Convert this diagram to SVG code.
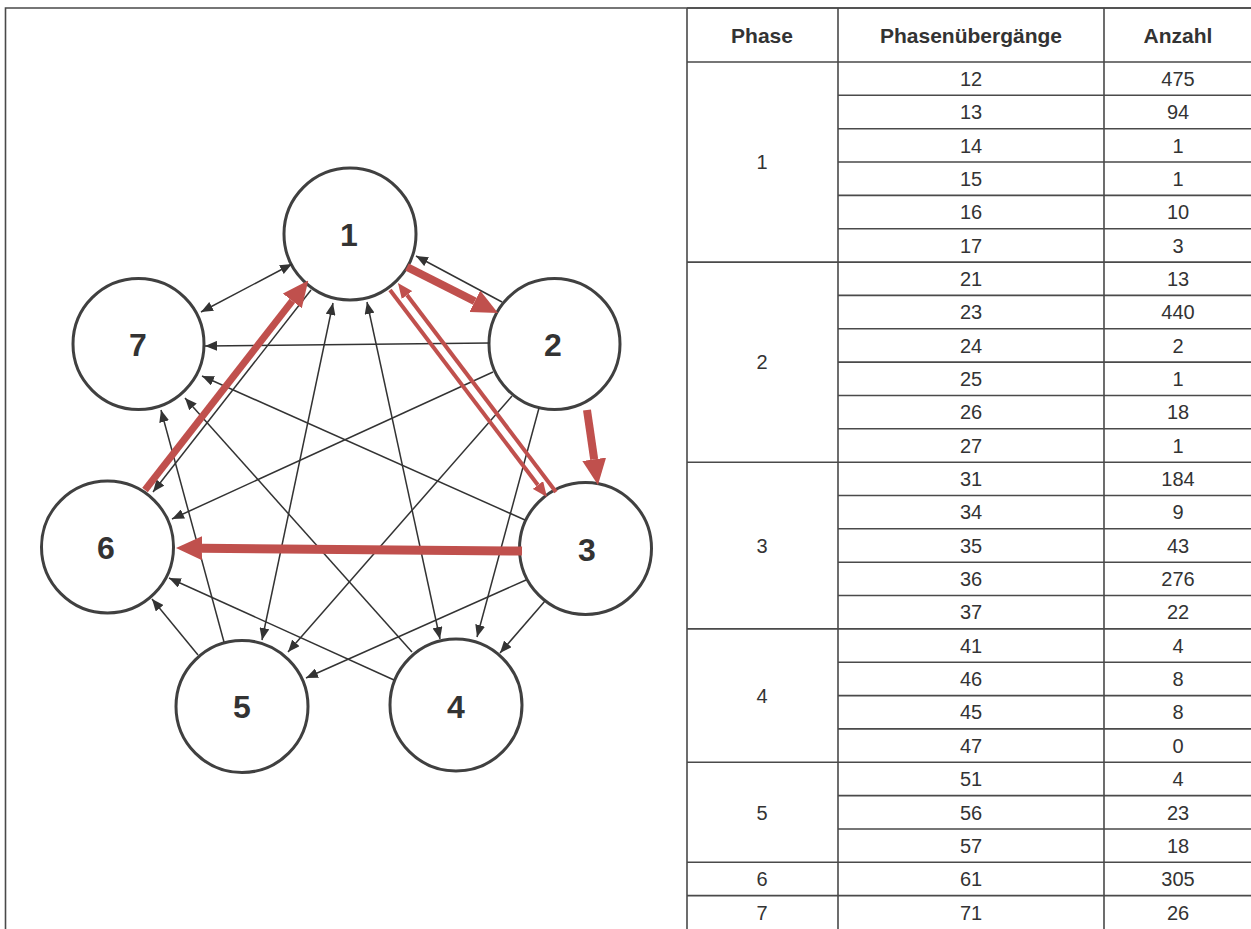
<svg xmlns="http://www.w3.org/2000/svg" width="1251" height="929" viewBox="0 0 1251 929">
  <style>
    .node circle { fill: #ffffff; stroke: #404040; stroke-width: 3; }
    .node text { font-family: "Liberation Sans", Arial, sans-serif; font-size: 32px; font-weight: bold; fill: #333333; text-anchor: middle; }
    .edge { fill: none; stroke: #333333; stroke-width: 1.5; }
    .hot { fill: none; stroke: #C0504D; }
    .grid { stroke: #4a4a4a; stroke-width: 1.6; fill: none; }
    .th { font-family: "Liberation Sans", Arial, sans-serif; font-size: 21px; font-weight: bold; fill: #333333; text-anchor: middle; }
    .td { font-family: "Liberation Sans", Arial, sans-serif; font-size: 20px; fill: #333333; text-anchor: middle; }
  </style>
  <defs>
    <marker id="tip" markerUnits="userSpaceOnUse" markerWidth="12" markerHeight="10" refX="12" refY="5" orient="auto-start-reverse">
      <path d="M0,0 L12,5 L0,10 z" fill="#333333"/>
    </marker>
    <marker id="hot-lg" markerUnits="userSpaceOnUse" markerWidth="26" markerHeight="24" refX="0" refY="12" orient="auto">
      <path d="M0,0 L26,12 L0,24 z" fill="#C0504D"/>
    </marker>
    <marker id="hot-sm" markerUnits="userSpaceOnUse" markerWidth="15" markerHeight="13" refX="0" refY="6.5" orient="auto">
      <path d="M0,0 L15,6.5 L0,13 z" fill="#C0504D"/>
    </marker>
  </defs>

  <rect width="1251" height="929" fill="#ffffff"/>

  <!-- outer frame -->
  <path class="grid" d="M5.5,929 V8 H1251"/>

  <!-- phase nodes -->
  <g id="node-1" class="node"><circle cx="350" cy="234" r="66"/><text x="349" y="246">1</text></g>
  <g id="node-2" class="node"><circle cx="554.5" cy="344" r="65.5"/><text x="553" y="356">2</text></g>
  <g id="node-3" class="node"><circle cx="585.5" cy="548.5" r="66"/><text x="587" y="561">3</text></g>
  <g id="node-4" class="node"><circle cx="456" cy="705" r="66"/><text x="456" y="718">4</text></g>
  <g id="node-5" class="node"><circle cx="242" cy="706.5" r="66"/><text x="242" y="718">5</text></g>
  <g id="node-6" class="node"><circle cx="107.5" cy="547" r="66"/><text x="106" y="559">6</text></g>
  <g id="node-7" class="node"><circle cx="138.5" cy="344" r="65.5"/><text x="138" y="356">7</text></g>

  <!-- transitions -->
  <g id="connectors">
    <!-- rare transitions -->
    <path class="edge" d="M201,312 L292,264" marker-start="url(#tip)" marker-end="url(#tip)"/>
    <path class="edge" d="M502,302 L416,256" marker-end="url(#tip)"/>
    <path class="edge" d="M490,343 L205,346" marker-end="url(#tip)"/>
    <path class="edge" d="M311,290 L153,492" marker-end="url(#tip)"/>
    <path class="edge" d="M333,303 L262,640" marker-start="url(#tip)" marker-end="url(#tip)"/>
    <path class="edge" d="M367,302 L440,639" marker-start="url(#tip)" marker-end="url(#tip)"/>
    <path class="edge" d="M525,520 L202,376" marker-end="url(#tip)"/>
    <path class="edge" d="M412,652 L185,398" marker-end="url(#tip)"/>
    <path class="edge" d="M224,642 L161,410" marker-end="url(#tip)"/>
    <path class="edge" d="M493,372 L172,519" marker-end="url(#tip)"/>
    <path class="edge" d="M512,396 L288,652" marker-end="url(#tip)"/>
    <path class="edge" d="M539,408 L477,637" marker-end="url(#tip)"/>
    <path class="edge" d="M526,580 L306,678" marker-end="url(#tip)"/>
    <path class="edge" d="M545,601 L500,653" marker-end="url(#tip)"/>
    <path class="edge" d="M394,680 L169,578" marker-end="url(#tip)"/>
    <path class="edge" d="M198,655 L152,599" marker-end="url(#tip)"/>

    <!-- dominant transitions -->
    <path class="hot" stroke-width="8" d="M407,267 L474.8,301.3" marker-end="url(#hot-lg)"/>
    <path class="hot" stroke-width="8" d="M587,410 L594.2,459.3" marker-end="url(#hot-lg)"/>
    <path class="hot" stroke-width="9" d="M522,551 L202,548.2" marker-end="url(#hot-lg)"/>
    <path class="hot" stroke-width="7" d="M145,490 L292.3,300.9" marker-end="url(#hot-lg)"/>
    <path class="hot" stroke-width="4" d="M390,290 L537.9,485" marker-end="url(#hot-sm)"/>
    <path class="hot" stroke-width="4" d="M556,492 L407,295" marker-end="url(#hot-sm)"/>
  </g>

  <!-- transition count table -->
  <g id="table">
    <path class="grid" d="M687,8 V929 M838,8 V929 M1104,8 V929 M687,8 H1251"/>
    <path class="grid" d="M687,62 H1251 M687,262.1 H1251 M687,462.2 H1251 M687,628.9 H1251 M687,762.3 H1251 M687,862.3 H1251 M687,895.6 H1251"/>
    <path class="grid" d="M838,95.3 H1251 M838,128.7 H1251 M838,162 H1251 M838,195.4 H1251 M838,228.7 H1251
      M838,295.4 H1251 M838,328.8 H1251 M838,362.1 H1251 M838,395.5 H1251 M838,428.8 H1251
      M838,495.5 H1251 M838,528.8 H1251 M838,562.2 H1251 M838,595.5 H1251
      M838,662.2 H1251 M838,695.6 H1251 M838,728.9 H1251
      M838,795.6 H1251 M838,829 H1251"/>

    <text class="th" x="762" y="43">Phase</text>
    <text class="th" x="971" y="43">Phasenübergänge</text>
    <text class="th" x="1178" y="43">Anzahl</text>

    <text class="td" x="762" y="169.2">1</text>
    <text class="td" x="762" y="369.3">2</text>
    <text class="td" x="762" y="552.7">3</text>
    <text class="td" x="762" y="702.8">4</text>
    <text class="td" x="762" y="819.5">5</text>
    <text class="td" x="762" y="886.2">6</text>
    <text class="td" x="762" y="919.5">7</text>

    <g class="td">
      <text class="td" x="971" y="85.9">12</text><text class="td" x="1178" y="85.9">475</text>
      <text class="td" x="971" y="119.2">13</text><text class="td" x="1178" y="119.2">94</text>
      <text class="td" x="971" y="152.6">14</text><text class="td" x="1178" y="152.6">1</text>
      <text class="td" x="971" y="185.9">15</text><text class="td" x="1178" y="185.9">1</text>
      <text class="td" x="971" y="219.3">16</text><text class="td" x="1178" y="219.3">10</text>
      <text class="td" x="971" y="252.6">17</text><text class="td" x="1178" y="252.6">3</text>
      <text class="td" x="971" y="285.9">21</text><text class="td" x="1178" y="285.9">13</text>
      <text class="td" x="971" y="319.3">23</text><text class="td" x="1178" y="319.3">440</text>
      <text class="td" x="971" y="352.6">24</text><text class="td" x="1178" y="352.6">2</text>
      <text class="td" x="971" y="386">25</text><text class="td" x="1178" y="386">1</text>
      <text class="td" x="971" y="419.3">26</text><text class="td" x="1178" y="419.3">18</text>
      <text class="td" x="971" y="452.7">27</text><text class="td" x="1178" y="452.7">1</text>
      <text class="td" x="971" y="486">31</text><text class="td" x="1178" y="486">184</text>
      <text class="td" x="971" y="519.4">34</text><text class="td" x="1178" y="519.4">9</text>
      <text class="td" x="971" y="552.7">35</text><text class="td" x="1178" y="552.7">43</text>
      <text class="td" x="971" y="586.1">36</text><text class="td" x="1178" y="586.1">276</text>
      <text class="td" x="971" y="619.4">37</text><text class="td" x="1178" y="619.4">22</text>
      <text class="td" x="971" y="652.8">41</text><text class="td" x="1178" y="652.8">4</text>
      <text class="td" x="971" y="686.1">46</text><text class="td" x="1178" y="686.1">8</text>
      <text class="td" x="971" y="719.4">45</text><text class="td" x="1178" y="719.4">8</text>
      <text class="td" x="971" y="752.8">47</text><text class="td" x="1178" y="752.8">0</text>
      <text class="td" x="971" y="786.1">51</text><text class="td" x="1178" y="786.1">4</text>
      <text class="td" x="971" y="819.5">56</text><text class="td" x="1178" y="819.5">23</text>
      <text class="td" x="971" y="852.8">57</text><text class="td" x="1178" y="852.8">18</text>
      <text class="td" x="971" y="886.2">61</text><text class="td" x="1178" y="886.2">305</text>
      <text class="td" x="971" y="919.5">71</text><text class="td" x="1178" y="919.5">26</text>
    </g>
  </g>
</svg>
